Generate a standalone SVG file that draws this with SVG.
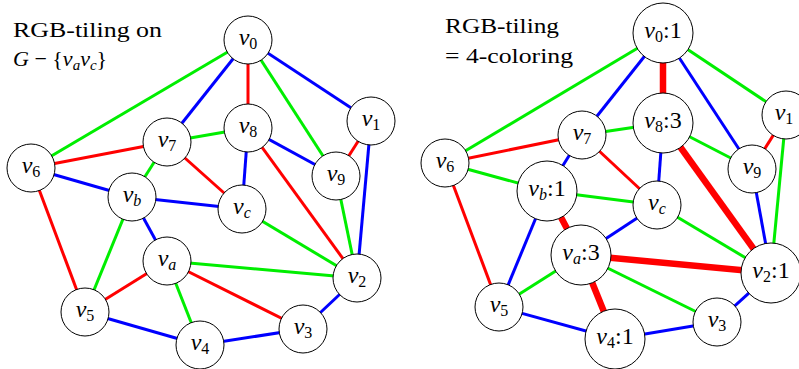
<svg xmlns="http://www.w3.org/2000/svg" width="799" height="369" viewBox="0 0 799 369" font-family="Liberation Serif">
<defs>
<circle id="n24" cx="0" cy="0" r="24" fill="#ffffff" stroke="#000000" stroke-width="1"/>
<circle id="n30" cx="0" cy="0" r="30" fill="#ffffff" stroke="#000000" stroke-width="1"/>
</defs>
<g id="connectors" stroke-width="3" fill="none">
<g stroke="#ff0000">
<line x1="248" y1="40" x2="248" y2="128"/>
<line x1="371" y1="121" x2="336" y2="176"/>
<line x1="167" y1="142" x2="31" y2="168"/>
<line x1="167" y1="142" x2="242" y2="209"/>
<line x1="248" y1="128" x2="357" y2="278"/>
<line x1="31" y1="168" x2="85" y2="312"/>
<line x1="167" y1="261" x2="85" y2="312"/>
<line x1="167" y1="261" x2="303" y2="329"/>
<line x1="786" y1="115" x2="752" y2="169"/>
<line x1="582" y1="135" x2="445" y2="163"/>
<line x1="582" y1="135" x2="657" y2="205"/>
<line x1="445" y1="163" x2="499" y2="307"/>
<g stroke-width="6.5">
<line x1="663" y1="33" x2="663" y2="123"/>
<line x1="663" y1="123" x2="771" y2="273"/>
<line x1="547" y1="191" x2="581" y2="255"/>
<line x1="581" y1="255" x2="771" y2="273"/>
<line x1="581" y1="255" x2="615" y2="339"/>
</g>
</g>
<g stroke="#00ee00">
<line x1="248" y1="40" x2="31" y2="168"/>
<line x1="248" y1="40" x2="336" y2="176"/>
<line x1="167" y1="142" x2="248" y2="128"/>
<line x1="167" y1="142" x2="132" y2="197"/>
<line x1="336" y1="176" x2="357" y2="278"/>
<line x1="132" y1="197" x2="85" y2="312"/>
<line x1="242" y1="209" x2="357" y2="278"/>
<line x1="167" y1="261" x2="357" y2="278"/>
<line x1="167" y1="261" x2="200" y2="345"/>
<line x1="663" y1="33" x2="445" y2="163"/>
<line x1="663" y1="33" x2="786" y2="115"/>
<line x1="786" y1="115" x2="771" y2="273"/>
<line x1="582" y1="135" x2="663" y2="123"/>
<line x1="663" y1="123" x2="752" y2="169"/>
<line x1="445" y1="163" x2="547" y2="191"/>
<line x1="547" y1="191" x2="657" y2="205"/>
<line x1="657" y1="205" x2="771" y2="273"/>
<line x1="581" y1="255" x2="499" y2="307"/>
<line x1="581" y1="255" x2="717" y2="322"/>
</g>
<g stroke="#0000ff">
<line x1="248" y1="40" x2="167" y2="142"/>
<line x1="248" y1="40" x2="371" y2="121"/>
<line x1="371" y1="121" x2="357" y2="278"/>
<line x1="248" y1="128" x2="242" y2="209"/>
<line x1="248" y1="128" x2="336" y2="176"/>
<line x1="31" y1="168" x2="132" y2="197"/>
<line x1="132" y1="197" x2="242" y2="209"/>
<line x1="132" y1="197" x2="167" y2="261"/>
<line x1="85" y1="312" x2="200" y2="345"/>
<line x1="200" y1="345" x2="303" y2="329"/>
<line x1="303" y1="329" x2="357" y2="278"/>
<line x1="663" y1="33" x2="582" y2="135"/>
<line x1="663" y1="33" x2="752" y2="169"/>
<line x1="752" y1="169" x2="771" y2="273"/>
<line x1="582" y1="135" x2="547" y2="191"/>
<line x1="663" y1="123" x2="657" y2="205"/>
<line x1="547" y1="191" x2="499" y2="307"/>
<line x1="657" y1="205" x2="581" y2="255"/>
<line x1="499" y1="307" x2="615" y2="339"/>
<line x1="615" y1="339" x2="717" y2="322"/>
<line x1="717" y1="322" x2="771" y2="273"/>
</g>
</g>
<g id="titles" font-family="Liberation Serif" font-size="21" fill="#000000">
<text x="13" y="37" textLength="149" lengthAdjust="spacingAndGlyphs">RGB-tiling on</text>
<text x="13" y="66" font-size="22"><tspan font-style="italic">G</tspan> &#8722; {<tspan font-style="italic">v</tspan><tspan font-style="italic" font-size="15" dy="4">a</tspan><tspan font-style="italic" dy="-4">v</tspan><tspan font-style="italic" font-size="15" dy="4">c</tspan><tspan dy="-4">}</tspan></text>
<text x="445" y="33" textLength="114" lengthAdjust="spacingAndGlyphs">RGB-tiling</text>
<text x="445" y="63" textLength="128" lengthAdjust="spacingAndGlyphs">= 4-coloring</text>
</g>
<g id="nodes" font-family="Liberation Serif" font-size="24" text-anchor="middle" fill="#000000">
<g id="L_v0"><use href="#n24" x="248" y="40"/><text x="248" y="45"><tspan font-style="italic">v</tspan><tspan font-size="16" dy="4">0</tspan></text></g>
<g id="L_v1"><use href="#n24" x="371" y="121"/><text x="371" y="126"><tspan font-style="italic">v</tspan><tspan font-size="16" dy="4">1</tspan></text></g>
<g id="L_v2"><use href="#n24" x="357" y="278"/><text x="357" y="283"><tspan font-style="italic">v</tspan><tspan font-size="16" dy="4">2</tspan></text></g>
<g id="L_v3"><use href="#n24" x="303" y="329"/><text x="303" y="334"><tspan font-style="italic">v</tspan><tspan font-size="16" dy="4">3</tspan></text></g>
<g id="L_v4"><use href="#n24" x="200" y="345"/><text x="200" y="350"><tspan font-style="italic">v</tspan><tspan font-size="16" dy="4">4</tspan></text></g>
<g id="L_v5"><use href="#n24" x="85" y="312"/><text x="85" y="317"><tspan font-style="italic">v</tspan><tspan font-size="16" dy="4">5</tspan></text></g>
<g id="L_v6"><use href="#n24" x="31" y="168"/><text x="31" y="173"><tspan font-style="italic">v</tspan><tspan font-size="16" dy="4">6</tspan></text></g>
<g id="L_v7"><use href="#n24" x="167" y="142"/><text x="167" y="147"><tspan font-style="italic">v</tspan><tspan font-size="16" dy="4">7</tspan></text></g>
<g id="L_v8"><use href="#n24" x="248" y="128"/><text x="248" y="133"><tspan font-style="italic">v</tspan><tspan font-size="16" dy="4">8</tspan></text></g>
<g id="L_v9"><use href="#n24" x="336" y="176"/><text x="336" y="181"><tspan font-style="italic">v</tspan><tspan font-size="16" dy="4">9</tspan></text></g>
<g id="L_va"><use href="#n24" x="167" y="261"/><text x="167" y="266"><tspan font-style="italic">v</tspan><tspan font-style="italic" font-size="16" dy="4">a</tspan></text></g>
<g id="L_vb"><use href="#n24" x="132" y="197"/><text x="132" y="202"><tspan font-style="italic">v</tspan><tspan font-style="italic" font-size="16" dy="4">b</tspan></text></g>
<g id="L_vc"><use href="#n24" x="242" y="209"/><text x="242" y="214"><tspan font-style="italic">v</tspan><tspan font-style="italic" font-size="16" dy="4">c</tspan></text></g>
<g id="R_v0"><use href="#n30" x="663" y="33"/><text x="663" y="38"><tspan font-style="italic">v</tspan><tspan font-size="16" dy="4">0</tspan><tspan dy="-4">:1</tspan></text></g>
<g id="R_v1"><use href="#n24" x="786" y="115"/><text x="784" y="120"><tspan font-style="italic">v</tspan><tspan font-size="16" dy="4">1</tspan></text></g>
<g id="R_v2"><use href="#n30" x="771" y="273"/><text x="771" y="278"><tspan font-style="italic">v</tspan><tspan font-size="16" dy="4">2</tspan><tspan dy="-4">:1</tspan></text></g>
<g id="R_v3"><use href="#n24" x="717" y="322"/><text x="717" y="327"><tspan font-style="italic">v</tspan><tspan font-size="16" dy="4">3</tspan></text></g>
<g id="R_v4"><use href="#n30" x="615" y="339"/><text x="615" y="344"><tspan font-style="italic">v</tspan><tspan font-size="16" dy="4">4</tspan><tspan dy="-4">:1</tspan></text></g>
<g id="R_v5"><use href="#n24" x="499" y="307"/><text x="499" y="312"><tspan font-style="italic">v</tspan><tspan font-size="16" dy="4">5</tspan></text></g>
<g id="R_v6"><use href="#n24" x="445" y="163"/><text x="445" y="168"><tspan font-style="italic">v</tspan><tspan font-size="16" dy="4">6</tspan></text></g>
<g id="R_v7"><use href="#n24" x="582" y="135"/><text x="582" y="140"><tspan font-style="italic">v</tspan><tspan font-size="16" dy="4">7</tspan></text></g>
<g id="R_v8"><use href="#n30" x="663" y="123"/><text x="663" y="128"><tspan font-style="italic">v</tspan><tspan font-size="16" dy="4">8</tspan><tspan dy="-4">:3</tspan></text></g>
<g id="R_v9"><use href="#n24" x="752" y="169"/><text x="752" y="174"><tspan font-style="italic">v</tspan><tspan font-size="16" dy="4">9</tspan></text></g>
<g id="R_va"><use href="#n30" x="581" y="255"/><text x="581" y="260"><tspan font-style="italic">v</tspan><tspan font-style="italic" font-size="16" dy="4">a</tspan><tspan dy="-4">:3</tspan></text></g>
<g id="R_vb"><use href="#n30" x="547" y="191"/><text x="547" y="196"><tspan font-style="italic">v</tspan><tspan font-style="italic" font-size="16" dy="4">b</tspan><tspan dy="-4">:1</tspan></text></g>
<g id="R_vc"><use href="#n24" x="657" y="205"/><text x="657" y="210"><tspan font-style="italic">v</tspan><tspan font-style="italic" font-size="16" dy="4">c</tspan></text></g>
</g>
</svg>
